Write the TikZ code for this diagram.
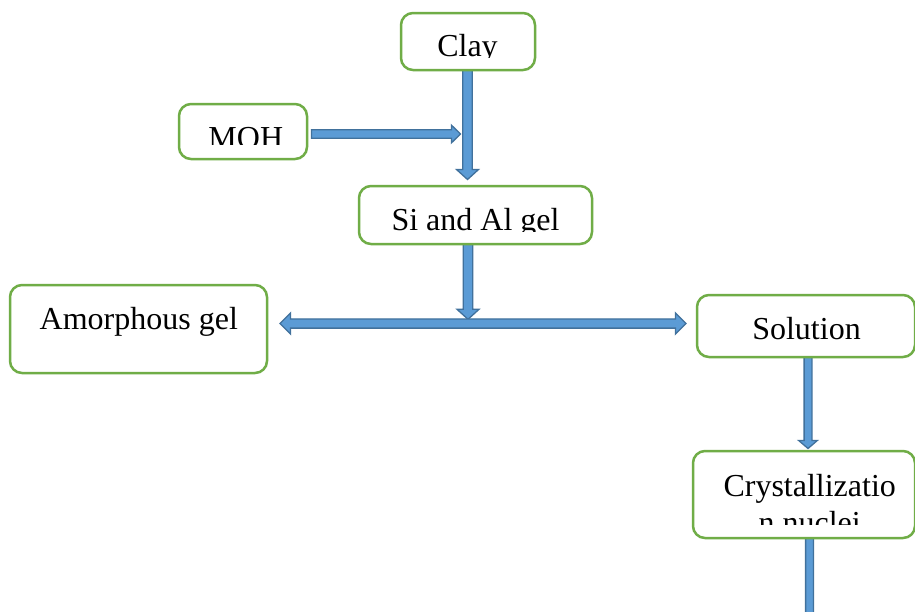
\documentclass[tikz,border=0pt]{standalone}
\usepackage{fontspec}
\setmainfont{Liberation Serif}
\usetikzlibrary{calc}
\definecolor{boxgreen}{HTML}{70AD47}
\definecolor{arrfill}{HTML}{5B9BD5}
\definecolor{arrline}{HTML}{41719C}
\tikzset{
  box/.style={draw=boxgreen, fill=white, line width=2.5pt, rounded corners=12pt, inner sep=0pt},
  lbl/.style={inner sep=0pt, anchor=base, font=\fontsize{32}{37}\selectfont},
  barrow/.style={fill=arrfill, draw=arrline, line width=1.3pt, line join=miter},
}
% block arrows: start, end, shaft half width, head half width, head length
\newcommand\blkdown[5]{\filldraw[barrow] let \p1=(#1),\p2=(#2) in
  (\x1-#3,\y1) -- (\x1+#3,\y1) -- (\x1+#3,\y2+#5) -- (\x1+#4,\y2+#5) -- (\x1,\y2)
  -- (\x1-#4,\y2+#5) -- (\x1-#3,\y2+#5) -- cycle;}
\newcommand\blkright[5]{\filldraw[barrow] let \p1=(#1),\p2=(#2) in
  (\x1,\y1+#3) -- (\x2-#5,\y1+#3) -- (\x2-#5,\y1+#4) -- (\x2,\y1) -- (\x2-#5,\y1-#4)
  -- (\x2-#5,\y1-#3) -- (\x1,\y1-#3) -- cycle;}
\newcommand\blkboth[5]{\filldraw[barrow] let \p1=(#1),\p2=(#2) in
  (\x1,\y1) -- (\x1+#5,\y1+#4) -- (\x1+#5,\y1+#3) -- (\x2-#5,\y1+#3) -- (\x2-#5,\y1+#4)
  -- (\x2,\y1) -- (\x2-#5,\y1-#4) -- (\x2-#5,\y1-#3) -- (\x1+#5,\y1-#3) -- (\x1+#5,\y1-#4) -- cycle;}
\begin{document}
\begin{tikzpicture}[x=1pt,y=-1pt]
\useasboundingbox (0,0) rectangle (915,611);
\clip (0,0) rectangle (915,611);
\fill[white] (0,0) rectangle (915,611);

% named anchor points of the connectors
\coordinate (clayS) at (467.5,70);
\coordinate (gelTip) at (467.5,179.5);
\coordinate (mohS) at (311.5,134);
\coordinate (mohTip) at (460.5,134);
\coordinate (gelS) at (468,244);
\coordinate (split) at (468,319.3);
\coordinate (lTip) at (280,323.5);
\coordinate (rTip) at (686,323.5);
\coordinate (solS) at (808,357);
\coordinate (cryTip) at (808,448.5);
\coordinate (cryS) at (809.5,538);
\coordinate (outTip) at (809.5,660);

% connectors
\blkdown{clayS}{gelTip}{4.8pt}{11pt}{10pt}
\blkright{mohS}{mohTip}{4.2pt}{8.8pt}{9pt}
\blkdown{gelS}{split}{4.8pt}{11pt}{10pt}
\blkboth{lTip}{rTip}{4.6pt}{10.5pt}{10.5pt}
\blkdown{solS}{cryTip}{3.9pt}{9.3pt}{8pt}
\blkdown{cryS}{outTip}{3.9pt}{9.3pt}{8pt}

% boxes
\node[box, minimum width=134pt, minimum height=57pt] (clay) at (468,41.5) {};
\node[box, minimum width=128pt, minimum height=55pt] (moh) at (243,131.5) {};
\node[box, minimum width=233pt, minimum height=58pt] (gel) at (475.5,215) {};
\node[box, minimum width=257pt, minimum height=88pt] (amor) at (138.5,329) {};
\node[box, minimum width=218pt, minimum height=62pt] (sol) at (806,326) {};
\node[box, minimum width=222pt, minimum height=87pt] (cry) at (804,494.5) {};

% labels (clipped as in the source)
\begin{scope}
  \clip (390,15) rectangle (540,57.8);
  \node[lbl] (tclay) at (467.5,56) {Clay};
\end{scope}
\begin{scope}
  \clip (180,105) rectangle (306,144.3);
  \node[lbl] (tmoh) at (245.8,148) {MOH};
\end{scope}
\begin{scope}
  \clip (360,187) rectangle (591,231);
  \node[lbl] (tgel) at (475.5,230) {Si and Al gel};
\end{scope}
\node[lbl] (tamor) at (138.8,329.5) {Amorphous gel};
\node[lbl] (tsol) at (806.5,339.3) {Solution};
\node[lbl] (tcry1) at (809.7,496) {Crystallizatio};
\begin{scope}
  \clip (694,500) rectangle (914,524.5);
  \node[lbl] (tcry2) at (809.7,533.7) {n nuclei};
\end{scope}
\end{tikzpicture}
\end{document}
